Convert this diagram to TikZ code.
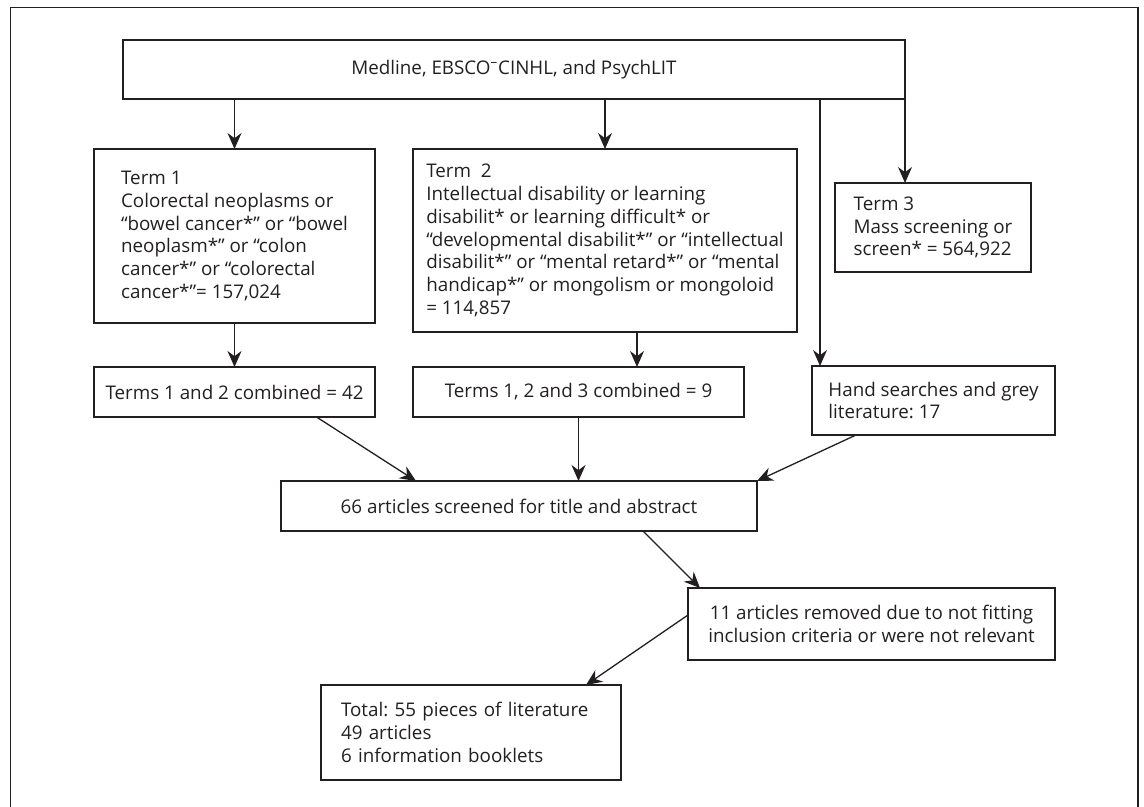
\documentclass[tikz,border=0pt]{standalone}
\usepackage{fontspec}
\setmainfont{Open Sans}
\usetikzlibrary{arrows.meta}
\definecolor{ink}{HTML}{231F20}

\begin{document}
\begin{tikzpicture}[x=0.5pt, y=-0.5pt,
        box/.style={draw=ink, line width=0.8pt, inner sep=0pt, outer sep=0pt, text=ink,
            align=left, font=\fontsize{9.4}{11.4}\selectfont\frenchspacing},
        link/.style={draw=ink, line width=0.65pt, -{Stealth[length=8pt, width=7pt]}}]
        \useasboundingbox (0, 0) rectangle (1144, 807);
        \draw[ink, line width=0.9pt] (10.5, 807) -- (10.5, 7.5) -- (1138, 7.5) -- (1138, 807);

        \node[box, align=center, minimum width=391pt, minimum height=29.5pt] (db) at (514, 69.5)
            {Medline, EBSCO\textsuperscript{–}CINHL, and PsychLIT};

        \node[box, minimum width=140.5pt, minimum height=87pt] (term1) at (234.5, 236)
            {Term 1\\Colorectal neoplasms or\\“bowel cancer*” or “bowel\\neoplasm*” or “colon\\cancer*” or “colorectal\\cancer*”= 157,024};
        \node[box, minimum width=192pt, minimum height=91.5pt] (term2) at (605, 240.5)
            {Term~~2\\Intellectual disability or learning\\disabilit* or learning difficult* or\\“developmental disabilit*” or “intellectual\\disabilit*” or “mental retard*” or “mental\\handicap*” or mongolism or mongoloid\\= 114,857};
        \node[box, minimum width=98pt, minimum height=44.5pt] (term3) at (933, 227.5)
            {Term 3\\Mass screening or\\screen* = 564,922};

        \node[box, align=center, minimum width=140.5pt, minimum height=25pt] (comb12) at (234.5, 392)
            {Terms 1 and 2 combined = 42};
        \node[box, align=center, minimum width=165.5pt, minimum height=25pt] (comb123) at (578.5, 392)
            {Terms 1, 2 and 3 combined = 9};
        \node[box, minimum width=121.5pt, minimum height=34.5pt] (hand) at (933.5, 400.5)
            {Hand searches and grey\\literature: 17};

        \node[box, align=center, minimum width=238pt, minimum height=25pt] (screen) at (519, 506)
            {66 articles screened for title and abstract};
        \node[box, align=center, minimum width=183.5pt, minimum height=36pt] (removed) at (871.5, 624)
            {11 articles removed due to not fitting\\inclusion criteria or were not relevant};
        \node[box, text width=130pt, minimum width=150pt, minimum height=47.5pt] (total) at (471, 732.5)
            {Total: 55 pieces of literature\\49 articles\\6 information booklets};

        % from the databases
        \coordinate (handin) at ([xshift=4pt]hand.north west);
        \draw[link] (db.south -| term1.north) -- (term1.north);
        \draw[link] (db.south -| term2.north) -- (term2.north);
        \draw[link] (db.south -| handin) -- (handin);
        \draw[link] (db.south east) -- (db.south east |- term3.north);

        \draw[link] (term1.south) -- (comb12.north);
        \draw[link] ([xshift=16pt]term2.south) -- ([xshift=16pt]term2.south |- comb123.north);

        % into screening
        \draw[link] ([xshift=41pt]comb12.south) -- ([xshift=67.5pt]screen.north west);
        \draw[link] (comb123.south) -- (comb123.south |- screen.north);
        \draw[link] ([xshift=22pt]hand.south west) -- (screen.north east);

        \draw[link] ([xshift=-57pt]screen.south east) -- ([xshift=6pt]removed.north west);
        \draw[link] ([yshift=4.5pt]removed.west) -- ([xshift=-17.5pt]total.north east);
      \end{tikzpicture}
\end{document}
